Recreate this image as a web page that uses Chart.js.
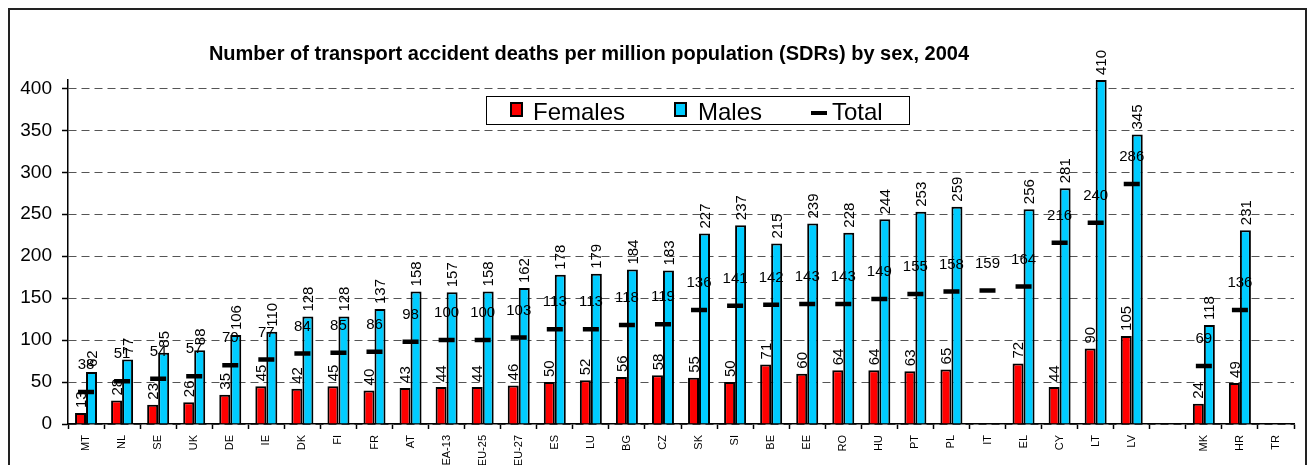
<!DOCTYPE html>
<html><head><meta charset="utf-8">
<script src="https://cdn.jsdelivr.net/npm/chart.js@4.4.1/dist/chart.umd.min.js"></script>
<style>html,body{margin:0;padding:0;background:#fff;overflow:hidden}#wrap{position:relative;width:1311px;height:465px}</style>
</head><body><div id="wrap"><canvas id="c" width="1311" height="465"></canvas></div>
<script>
const titleText = 'Number of transport accident deaths per million population (SDRs) by sex, 2004';
const categories = ['MT','NL','SE','UK','DE','IE','DK','FI','FR','AT','EA-13','EU-25','EU-27','ES','LU','BG','CZ','SK','SI','BE','EE','RO','HU','PT','PL','IT','EL','CY','LT','LV','','MK','HR','TR'];
const females = [13,28,23,26,35,45,42,45,40,43,44,44,46,50,52,56,58,55,50,71,60,64,64,63,65,null,72,44,90,105,null,24,49,null];
const males   = [62,77,85,88,106,110,128,128,137,158,157,158,162,178,179,184,183,227,237,215,239,228,244,253,259,null,256,281,410,345,null,118,231,null];
const totals  = [38,51,54,57,70,77,84,85,86,98,100,100,103,113,113,118,119,136,141,142,143,143,149,155,158,159,164,216,240,286,null,69,136,null];
const yTickValues = [0,50,100,150,200,250,300,350,400];
const seriesNames = ['Females','Males','Total'];
const seriesColors = ['#FF0000','#00CCFF','#000000'];

const FONT = '"Liberation Sans", Arial, sans-serif';

const deco = {
  id: 'deco',
  beforeDraw(chart) {
    const ctx = chart.ctx;
    ctx.save();
    ctx.fillStyle = '#fff';
    ctx.fillRect(0, 0, chart.width, chart.height);
    ctx.restore();
  },
  afterDatasetsDraw(chart) {
    const ctx = chart.ctx;
    ctx.save();
    ctx.font = '15px ' + FONT;
    ctx.fillStyle = '#000';
    [0, 1].forEach(di => {
      const meta = chart.getDatasetMeta(di);
      const vals = chart.data.datasets[di].data;
      meta.data.forEach((el, i) => {
        const v = vals[i];
        if (v == null) return;
        ctx.save();
        ctx.translate(el.x + 1, el.y - 5);
        ctx.rotate(-Math.PI / 2);
        ctx.textAlign = 'left';
        ctx.textBaseline = 'middle';
        ctx.fillText(String(v), 0, 0);
        ctx.restore();
      });
    });
    const tmeta = chart.getDatasetMeta(2);
    tmeta.data.forEach((el, i) => {
      const v = totals[i];
      if (v == null) return;
      ctx.textAlign = 'center';
      ctx.textBaseline = 'middle';
      ctx.fillText(String(v), el.x, el.y - 27);
    });
    ctx.restore();
  },
  afterDraw(chart) {
    const ctx = chart.ctx;
    ctx.save();
    // outer frame
    ctx.strokeStyle = '#222';
    ctx.lineWidth = 2;
    ctx.strokeRect(9, 9, 1297, 500);
    // title
    ctx.fillStyle = '#000';
    ctx.font = 'bold 20px ' + FONT;
    ctx.textAlign = 'center';
    ctx.textBaseline = 'alphabetic';
    ctx.fillText(titleText, 589, 60);
    // legend
    ctx.fillStyle = '#fff';
    ctx.fillRect(486, 96, 423, 28);
    ctx.strokeStyle = '#000';
    ctx.lineWidth = 1;
    ctx.strokeRect(486.5, 96.5, 423, 28);
    ctx.font = '24px ' + FONT;
    ctx.textAlign = 'left';
    const swX = [511, 675, 811];
    const txX = [533, 698, 832];
    for (let k = 0; k < 3; k++) {
      if (k < 2) {
        ctx.fillStyle = seriesColors[k];
        ctx.fillRect(swX[k], 103, 11, 13);
        ctx.strokeStyle = '#000';
        ctx.lineWidth = 2;
        ctx.strokeRect(swX[k], 103, 11, 13);
      } else {
        ctx.fillStyle = '#000';
        ctx.fillRect(swX[k], 111, 16, 4);
      }
      ctx.fillStyle = '#000';
      ctx.fillText(seriesNames[k], txX[k], 120);
    }
    ctx.restore();
  }
};

new Chart(document.getElementById('c'), {
  data: {
    labels: categories,
    datasets: [
      { type: 'bar', label: seriesNames[0], data: females, backgroundColor: seriesColors[0], borderColor: '#000', borderWidth: 2, order: 2, categoryPercentage: 0.61, barPercentage: 1.0 },
      { type: 'bar', label: seriesNames[1], data: males, backgroundColor: seriesColors[1], borderColor: '#000', borderWidth: 2, order: 2, categoryPercentage: 0.61, barPercentage: 1.0 },
      { type: 'line', label: seriesNames[2], data: totals, showLine: false, pointStyle: 'line', pointRadius: 8, pointHoverRadius: 8, pointBorderWidth: 4.5, pointBorderColor: '#000', pointBackgroundColor: '#000', order: 1 }
    ]
  },
  options: {
    responsive: false,
    animation: false,
    devicePixelRatio: 1,
    layout: { padding: { top: 80, left: 8, right: 17, bottom: 0 } },
    plugins: { legend: { display: false }, title: { display: false }, tooltip: { enabled: false } },
    scales: {
      x: {
        type: 'category',
        offset: true,
        afterFit(s) { s.height = 41; },
        grid: { offset: true, drawOnChartArea: false, drawTicks: true, tickLength: 5, tickColor: '#000', tickWidth: 1.5 },
        border: { display: true, color: '#000', width: 1.5 },
        ticks: { autoSkip: false, minRotation: 90, maxRotation: 90, padding: 6, color: '#000', font: { family: FONT, size: 11 } }
      },
      y: {
        min: 0,
        max: 410,
        afterFit(s) { s.width = 60; },
        afterBuildTicks(s) { s.ticks = yTickValues.map(v => ({ value: v })); },
        grid: { color: '#555', lineWidth: 1, drawTicks: true, tickLength: 6, tickColor: '#000', tickWidth: 1.5 },
        border: { display: true, color: '#000', width: 1.5, dash: [8, 5] },
        ticks: { stepSize: 50, padding: 10, color: '#000', font: { family: FONT, size: 19 } }
      }
    }
  },
  plugins: [deco]
});
</script>
</body></html>
